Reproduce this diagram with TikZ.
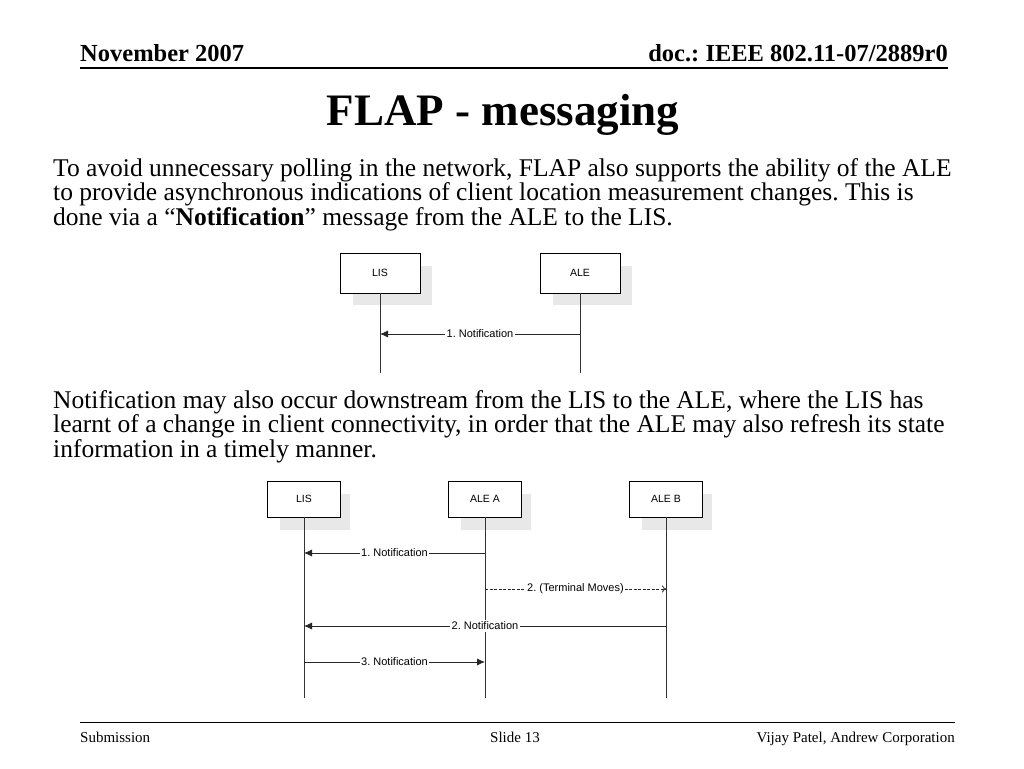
\documentclass[tikz,border=0pt]{standalone}
\usepackage{fontspec}
\setmainfont{Liberation Serif}
\newfontfamily\diagfont{Liberation Sans}
\usetikzlibrary{arrows.meta}
\begin{document}
\frenchspacing
\begin{tikzpicture}[x=1pt,y=-1pt,
  hdr/.style={font=\fontsize{24.5}{28}\selectfont\bfseries, inner sep=0pt},
  body/.style={font=\fontsize{25.5}{30}\selectfont, inner sep=0pt, anchor=base west},
  foot/.style={font=\fontsize{15}{18}\selectfont, inner sep=0pt},
  actor/.style={draw=black, fill=white, line width=0.8pt, minimum width=80pt, minimum height=40pt, inner sep=0pt, font=\diagfont\fontsize{10.5}{12}\selectfont},
  shadowbox/.style={fill=gray!18, draw=none},
  lifeline/.style={draw=black!80, line width=0.8pt},
  msg/.style={draw=black!85, line width=0.8pt, -{Latex[length=8pt,width=7pt]}},
  dmsg/.style={draw=black!85, line width=0.8pt, dashed, dash pattern=on 3pt off 1.5pt, -{To[length=4pt,width=7pt]}},
  lbl/.style={fill=white, inner sep=1.5pt, font=\diagfont\fontsize{11}{13}\selectfont}
]
\useasboundingbox (0,0) rectangle (1024,768);
\fill[white] (0,0) rectangle (1024,768);
% header
\node[hdr, anchor=base west] (hl) at (80,61) {November 2007};
\node[hdr, anchor=base east] (hr) at (948,61) {doc.: IEEE 802.11-07/2889r0};
\draw[line width=1.2pt] (80,68) -- (948,68);
% title
\node[font=\fontsize{45}{50}\selectfont\bfseries, inner sep=0pt, anchor=base] (title) at (503,125) {FLAP - messaging};
% body text
\node[body] (p1a) at (53,176) {To avoid unnecessary polling in the network, FLAP also supports the ability of the ALE};
\node[body] (p1b) at (53,200.5) {to provide asynchronous indications of client location measurement changes. This is};
\node[body] (p1c) at (53,225) {done via a “\textbf{Notification}” message from the ALE to the LIS.};
\node[body] (p2a) at (53,408) {Notification may also occur downstream from the LIS to the ALE, where the LIS has};
\node[body] (p2b) at (53,432.5) {learnt of a change in client connectivity, in order that the ALE may also refresh its state};
\node[body] (p2c) at (53,457) {information in a timely manner.};
% diagram 1
\fill[shadowbox] (353,266) rectangle (432,305);
\fill[shadowbox] (553,266) rectangle (632,305);
\node[actor] (lis1) at (380,273) {LIS};
\node[actor] (ale1) at (580,273) {ALE};
\coordinate (lis1e) at (380,373);
\coordinate (ale1e) at (580,373);
\draw[lifeline] (lis1) -- (lis1e);
\draw[lifeline] (ale1) -- (ale1e);
\coordinate (m1s) at (580,334);
\coordinate (m1e) at (380,334);
\draw[msg] (m1s) -- node[lbl] {1. Notification} (m1e);
% diagram 2
\fill[shadowbox] (280,494) rectangle (350,530);
\fill[shadowbox] (461,494) rectangle (531,530);
\fill[shadowbox] (642,494) rectangle (712,530);
\node[actor, minimum width=73pt, minimum height=36pt] (lis2) at (304,499) {LIS};
\node[actor, minimum width=73pt, minimum height=36pt] (alea) at (485,499) {ALE A};
\node[actor, minimum width=73pt, minimum height=36pt] (aleb) at (666,499) {ALE B};
\coordinate (lis2e) at (304,698);
\coordinate (aleae) at (485,698);
\coordinate (alebe) at (666,698);
\draw[lifeline] (lis2) -- (lis2e);
\draw[lifeline] (alea) -- (aleae);
\draw[lifeline] (aleb) -- (alebe);
\coordinate (a1) at (485,553); \coordinate (l1) at (304,553);
\draw[msg] (a1) -- node[lbl] {1. Notification} (l1);
\coordinate (a2) at (485,589); \coordinate (b2) at (666,589);
\draw[dmsg] (a2) -- node[lbl] {2. (Terminal Moves)} (b2);
\coordinate (b3) at (666,626); \coordinate (l3) at (304,626);
\draw[msg] (b3) -- node[lbl] {2. Notification} (l3);
\coordinate (l4) at (304,662); \coordinate (a4) at (485,662);
\draw[msg] (l4) -- node[lbl] {3. Notification} (a4);
% footer
\draw[line width=1pt] (80,722) -- (955,722);
\node[foot, anchor=base west] (fl) at (80,742) {Submission};
\node[foot, anchor=base] (fc) at (515,742) {Slide 13};
\node[foot, anchor=base east] (fr) at (955,742) {Vijay Patel, Andrew Corporation};
\end{tikzpicture}
\end{document}
